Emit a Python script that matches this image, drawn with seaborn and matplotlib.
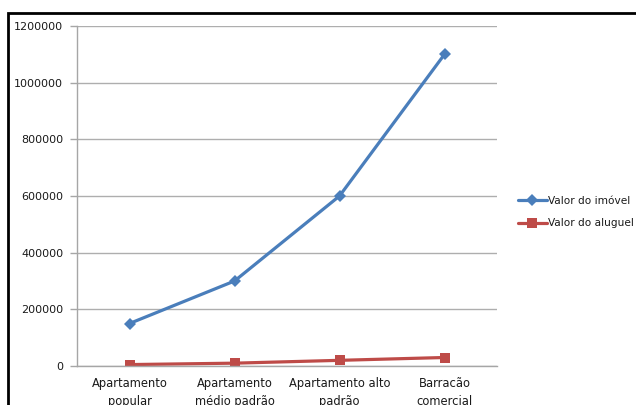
import matplotlib.pyplot as plt
import matplotlib.patches as mpatches
import pandas as pd
import seaborn as sns

categorias = ["Apartamento\npopular", "Apartamento\nmédio padrão",
              "Apartamento alto\npadrão", "Barracão\ncomercial"]
valor_imovel = [150000, 300000, 600000, 1100000]
valor_aluguel = [5000, 10000, 20000, 30000]

df = pd.DataFrame({"categoria": categorias * 2,
                   "valor": valor_imovel + valor_aluguel,
                   "serie": ["Valor do imóvel"] * 4 + ["Valor do aluguel"] * 4})

sns.set_style("white")
plt.rcParams["font.family"] = ["DejaVu Sans"]

fig = plt.figure(figsize=(6.36, 4.05), dpi=100)
ax = fig.add_axes([77 / 636, 39 / 405, 420 / 636, 340 / 405])

cores = {"Valor do imóvel": "#4A7EBB", "Valor do aluguel": "#BE4B48"}
sns.lineplot(df, x="categoria", y="valor", hue="serie", style="serie",
             markers={"Valor do imóvel": "D", "Valor do aluguel": "s"},
             dashes=False, palette=cores, linewidth=2.3, markersize=6.5,
             markeredgewidth=0, ax=ax)

ax.set_xlim(-0.5, 3.5)
ax.set_ylim(0, 1200000)
ax.set_yticks(range(0, 1200001, 200000))
ax.set_yticklabels([str(v) for v in range(0, 1200001, 200000)], fontsize=8,
                   color="#1a1a1a")
ax.set_xticks(range(4))
ax.set_xticklabels(categorias, fontsize=8.3, color="#1a1a1a", linespacing=1.45)
ax.set_xticks([-0.5, 0.5, 1.5, 2.5, 3.5], minor=True)
ax.tick_params(axis="x", which="major", length=0, pad=8)
ax.tick_params(axis="x", which="minor", length=5, color="#A6A6A6", width=1)
ax.tick_params(axis="y", length=5, color="#A6A6A6", width=1, pad=5, left=True)
ax.set_xlabel("")
ax.set_ylabel("")
ax.grid(axis="y", color="#AEAEAE", linewidth=1)
for s in ["top", "right"]:
    ax.spines[s].set_visible(False)
for s in ["left", "bottom"]:
    ax.spines[s].set_color("#A6A6A6")
    ax.spines[s].set_linewidth(1)

handles, labels = ax.get_legend_handles_labels()
leg = ax.legend(handles, labels, loc="center left",
                bbox_to_anchor=(514 / 636, 1 - 212 / 405),
                bbox_transform=fig.transFigure, frameon=False, fontsize=7.6,
                handlelength=2.7, handletextpad=0.1, labelspacing=1.2,
                borderaxespad=0)
for t in leg.get_texts():
    t.set_color("#1a1a1a")

fig.patches.append(mpatches.Rectangle((8 / 636, -0.1), 1, 1 - 13 / 405 + 0.1,
                                      transform=fig.transFigure, fill=False,
                                      edgecolor="black", linewidth=2))

fig.savefig("out.png", dpi=100)
